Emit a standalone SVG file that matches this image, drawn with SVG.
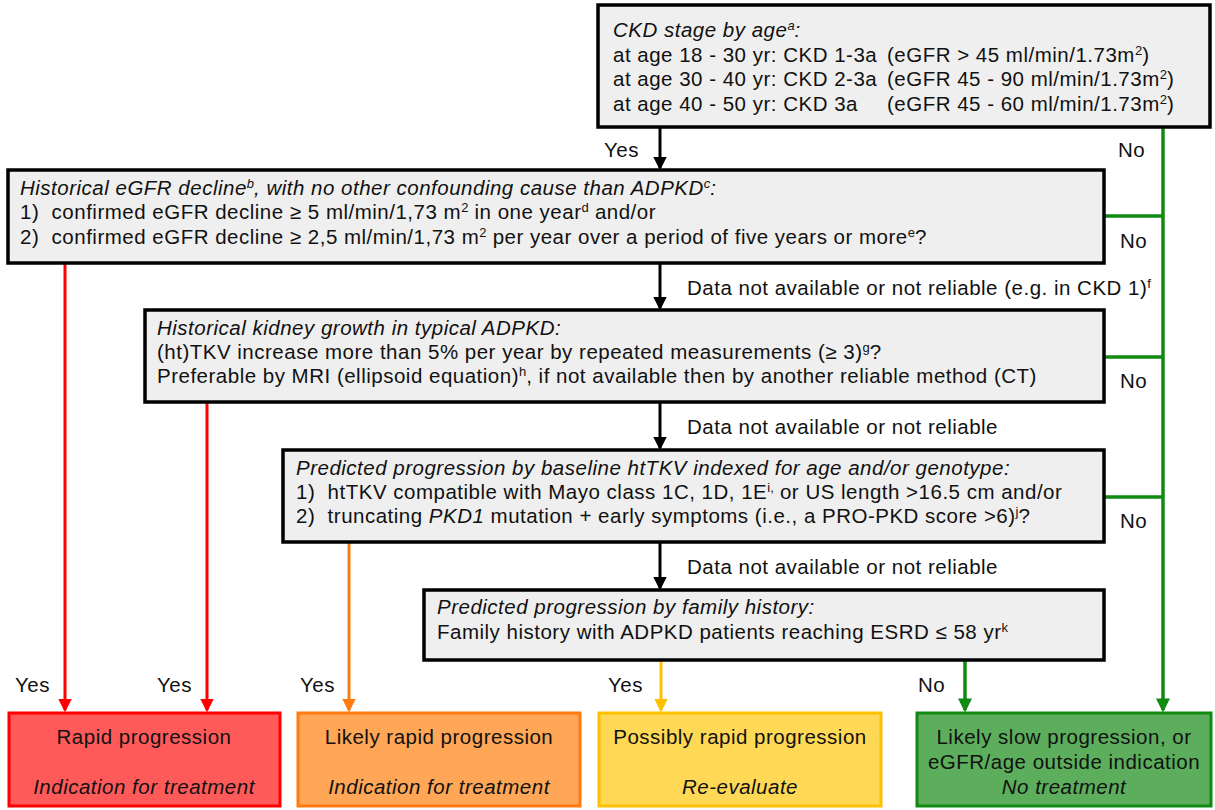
<svg xmlns="http://www.w3.org/2000/svg" width="1215" height="810" viewBox="0 0 1215 810">
<defs>
<marker id="ak" markerWidth="4.6" markerHeight="4.6" refX="3.8" refY="2.3" orient="auto" markerUnits="strokeWidth"><path d="M0,0 L4.6,2.3 L0,4.6 Z" fill="#000"/></marker>
<marker id="ar" markerWidth="4.6" markerHeight="4.6" refX="3.8" refY="2.3" orient="auto" markerUnits="strokeWidth"><path d="M0,0 L4.6,2.3 L0,4.6 Z" fill="#ff0000"/></marker>
<marker id="ao" markerWidth="4.6" markerHeight="4.6" refX="3.8" refY="2.3" orient="auto" markerUnits="strokeWidth"><path d="M0,0 L4.6,2.3 L0,4.6 Z" fill="#ff7a0f"/></marker>
<marker id="ay" markerWidth="4.6" markerHeight="4.6" refX="3.8" refY="2.3" orient="auto" markerUnits="strokeWidth"><path d="M0,0 L4.6,2.3 L0,4.6 Z" fill="#ffc000"/></marker>
<marker id="ag" markerWidth="4" markerHeight="4" refX="3.3" refY="2" orient="auto" markerUnits="strokeWidth"><path d="M0,0 L4,2 L0,4 Z" fill="#108a10"/></marker>
<style>
text{font-family:"Liberation Sans",Arial,sans-serif;font-size:20.5px;letter-spacing:0.5px;fill:#111;white-space:pre}
.gb{fill:#efefef;stroke:#000;stroke-width:3.5}
.i{font-style:italic}
.s{font-size:13px;baseline-shift:super;letter-spacing:0}
.c{text-anchor:middle}
.k{stroke:#000;stroke-width:3;fill:none}
.r{stroke:#ff0000;stroke-width:3;fill:none}
.o{stroke:#ff7a0f;stroke-width:3;fill:none}
.y{stroke:#ffc000;stroke-width:3;fill:none}
.g{stroke:#108a10;stroke-width:3.5;fill:none}
</style>
</defs>
<rect width="1215" height="810" fill="#fff"/>

<g id="connectors">
<line class="k" x1="660" y1="127" x2="660" y2="168" marker-end="url(#ak)"/>
<line class="k" x1="660" y1="263" x2="660" y2="308" marker-end="url(#ak)"/>
<line class="k" x1="660" y1="402" x2="660" y2="448" marker-end="url(#ak)"/>
<line class="k" x1="660" y1="542" x2="660" y2="588" marker-end="url(#ak)"/>
<line class="r" x1="65" y1="263" x2="65" y2="710" marker-end="url(#ar)"/>
<line class="r" x1="207" y1="402" x2="207" y2="710" marker-end="url(#ar)"/>
<line class="o" x1="349" y1="542" x2="349" y2="710" marker-end="url(#ao)"/>
<line class="y" x1="661" y1="660" x2="661" y2="710" marker-end="url(#ay)"/>
<line class="g" x1="965" y1="660" x2="965" y2="710" marker-end="url(#ag)"/>
<line class="g" x1="1163" y1="127" x2="1163" y2="710" marker-end="url(#ag)"/>
<line class="g" x1="1104" y1="216" x2="1163" y2="216"/>
<line class="g" x1="1104" y1="357" x2="1163" y2="357"/>
<line class="g" x1="1104" y1="497" x2="1163" y2="497"/>
<text x="604" y="157">Yes</text>
<text x="1118" y="157">No</text>
<text x="1120" y="248">No</text>
<text x="1120" y="388">No</text>
<text x="1120" y="528">No</text>
<text x="687" y="295">Data not available or not reliable (e.g. in CKD 1)<tspan class="s">f</tspan></text>
<text x="687" y="434">Data not available or not reliable</text>
<text x="687" y="574">Data not available or not reliable</text>
<text x="15" y="692">Yes</text>
<text x="157" y="692">Yes</text>
<text x="300" y="692">Yes</text>
<text x="608" y="692">Yes</text>
<text x="918" y="692">No</text>
</g>

<g id="n1">
<rect class="gb" x="598" y="5" width="612" height="122"/>
<text x="613" y="37" class="i">CKD stage by age<tspan class="s">a</tspan>:</text>
<text x="613" y="62">at age 18 - 30 yr: CKD 1-3a<tspan x="887">(eGFR &gt; 45 ml/min/1.73m</tspan><tspan class="s">2</tspan>)</text>
<text x="613" y="86">at age 30 - 40 yr: CKD 2-3a<tspan x="887">(eGFR 45 - 90 ml/min/1.73m</tspan><tspan class="s">2</tspan>)</text>
<text x="613" y="111">at age 40 - 50 yr: CKD 3a<tspan x="887">(eGFR 45 - 60 ml/min/1.73m</tspan><tspan class="s">2</tspan>)</text>
</g>

<g id="n2">
<rect class="gb" x="8" y="170" width="1096" height="93"/>
<text x="20" y="195" class="i">Historical eGFR decline<tspan class="s">b</tspan>, with no other confounding cause than ADPKD<tspan class="s">c</tspan>:</text>
<text x="20" y="219">1)  confirmed eGFR decline ≥ 5 ml/min/1,73 m<tspan class="s">2</tspan> in one year<tspan class="s">d</tspan> and/or</text>
<text x="20" y="244">2)  confirmed eGFR decline ≥ 2,5 ml/min/1,73 m<tspan class="s">2</tspan> per year over a period of five years or more<tspan class="s">e</tspan>?</text>
</g>

<g id="n3">
<rect class="gb" x="145" y="310" width="959" height="92"/>
<text x="157" y="335" class="i">Historical kidney growth in typical ADPKD:</text>
<text x="157" y="359">(ht)TKV increase more than 5% per year by repeated measurements (≥ 3)<tspan class="s">g</tspan>?</text>
<text x="157" y="383">Preferable by MRI (ellipsoid equation)<tspan class="s">h</tspan>, if not available then by another reliable method (CT)</text>
</g>

<g id="n4">
<rect class="gb" x="283" y="450" width="821" height="92"/>
<text x="296" y="475" class="i">Predicted progression by baseline htTKV indexed for age and/or genotype:</text>
<text x="296" y="499">1)  htTKV compatible with Mayo class 1C, 1D, 1E<tspan class="s">i,</tspan> or US length &gt;16.5 cm and/or</text>
<text x="296" y="523">2)  truncating <tspan class="i">PKD1</tspan> mutation + early symptoms (i.e., a PRO-PKD score &gt;6)<tspan class="s">j</tspan>?</text>
</g>

<g id="n5">
<rect class="gb" x="424" y="590" width="680" height="70"/>
<text x="437" y="614" class="i">Predicted progression by family history:</text>
<text x="437" y="639">Family history with ADPKD patients reaching ESRD ≤ 58 yr<tspan class="s">k</tspan></text>
</g>

<g id="o1">
<rect x="9" y="713" width="271" height="93" fill="#ff5a5a" stroke="#ff0000" stroke-width="3"/>
<text x="144" y="744" class="c">Rapid progression</text>
<text x="144" y="794" class="c i">Indication for treatment</text>
</g>
<g id="o2">
<rect x="298" y="713" width="282" height="93" fill="#ffa756" stroke="#ff7a0f" stroke-width="3"/>
<text x="439" y="744" class="c">Likely rapid progression</text>
<text x="439" y="794" class="c i">Indication for treatment</text>
</g>
<g id="o3">
<rect x="599" y="713" width="282" height="93" fill="#ffd955" stroke="#ffc000" stroke-width="3"/>
<text x="740" y="744" class="c">Possibly rapid progression</text>
<text x="740" y="794" class="c i">Re-evaluate</text>
</g>
<g id="o4">
<rect x="917" y="713" width="294" height="93" fill="#5cad5c" stroke="#108a10" stroke-width="3"/>
<text x="1064" y="744" class="c">Likely slow progression, or</text>
<text x="1064" y="769" class="c">eGFR/age outside indication</text>
<text x="1064" y="794" class="c i">No treatment</text>
</g>
</svg>
